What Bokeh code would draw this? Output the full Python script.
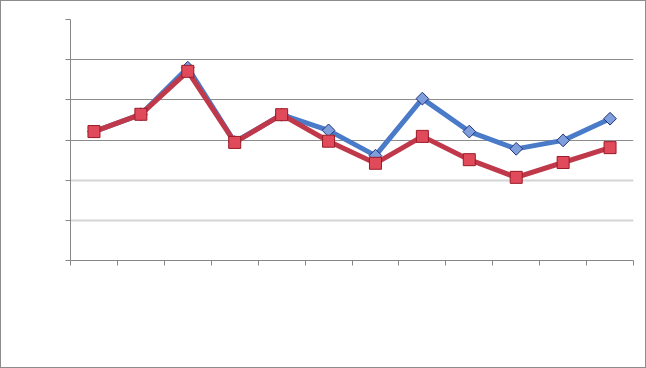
import math
from bokeh.plotting import figure
from bokeh.layouts import column
from bokeh.models import Range1d, FixedTicker, Grid, Legend, LegendItem
from bokeh.embed import file_html
from bokeh.resources import INLINE

# data
positions = list(range(1, 13))
series_a = [3.21, 3.64, 4.80, 2.95, 3.63, 3.24, 2.61, 4.03, 3.21, 2.78, 2.99, 3.53]
series_b = [3.21, 3.64, 4.71, 2.94, 3.63, 2.97, 2.42, 3.09, 2.51, 2.07, 2.44, 2.81]
y_ticks = [0, 1, 2, 3, 4, 5, 6]
x_bounds = [0.5 + i for i in range(13)]

BLUE_LINE, BLUE_FILL, BLUE_EDGE = "#4a7bc8", "#7f9fdc", "#23317a"
RED_LINE, RED_FILL, RED_EDGE = "#c0394a", "#e04a5a", "#9b1b27"

p = figure(width=644, height=329, output_backend="svg", toolbar_location=None,
           frame_width=563, frame_height=241,
           min_border_left=69, min_border_right=12, min_border_top=18, min_border_bottom=70,
           x_range=Range1d(0.5, 12.5), y_range=Range1d(0, 6))
p.outline_line_color = None
p.background_fill_color = "white"
p.border_fill_color = "white"

for ax in (p.xaxis[0], p.yaxis[0]):
    ax.major_label_text_font_size = "0pt"
    ax.major_label_text_color = None
    ax.axis_line_color = "#868686"
    ax.major_tick_line_color = "#868686"
    ax.major_tick_out = 5
    ax.major_tick_in = 0
    ax.minor_tick_line_color = None
p.xaxis[0].ticker = FixedTicker(ticks=x_bounds)
p.yaxis[0].ticker = FixedTicker(ticks=y_ticks)
p.xgrid.grid_line_color = None
p.ygrid.grid_line_color = None

g_dark = Grid(dimension=1, ticker=FixedTicker(ticks=[3, 4, 5]), grid_line_color="#8c8c8c", grid_line_width=1)
g_light = Grid(dimension=1, ticker=FixedTicker(ticks=[1, 2]), grid_line_color="#d4d4d4", grid_line_width=2)
g_top = Grid(dimension=1, ticker=FixedTicker(ticks=[6]), grid_line_color="#b4b4b4", grid_line_width=1)
p.add_layout(g_dark)
p.add_layout(g_light)
p.add_layout(g_top)

p.line(positions, series_a, line_color=BLUE_LINE, line_width=5, line_join="round")
p.scatter(positions, series_a, marker="square", angle=math.pi / 4, size=9,
          fill_color=BLUE_FILL, line_color=BLUE_EDGE, line_width=1)
p.line(positions, series_b, line_color=RED_LINE, line_width=5, line_join="round")
p.scatter(positions, series_b, marker="square", size=12, fill_color=RED_FILL,
          line_color=RED_EDGE, line_width=1)

# legend strip
q = figure(width=644, height=37, output_backend="svg", toolbar_location=None,
           min_border_left=0, min_border_right=0, min_border_top=0, min_border_bottom=0,
           x_axis_location=None, y_axis_location=None,
           x_range=Range1d(0, 1), y_range=Range1d(0, 1))
q.outline_line_color = None
q.background_fill_color = "white"
q.border_fill_color = "white"
q.xgrid.grid_line_color = None
q.ygrid.grid_line_color = None

ka = q.line([], [], line_color=BLUE_LINE, line_width=5, line_cap="round")
kma = q.scatter([], [], marker="diamond", fill_color=BLUE_FILL, line_color=BLUE_EDGE, line_width=1)
kb = q.line([], [], line_color=RED_LINE, line_width=5, line_cap="round")
kmb = q.scatter([], [], marker="square", fill_color=RED_FILL, line_color=RED_EDGE, line_width=1)

leg = Legend(items=[LegendItem(label=" ", renderers=[ka, kma]),
                    LegendItem(label=" ", renderers=[kb, kmb])],
             orientation="horizontal", location=(87, 5),
             glyph_width=28, glyph_height=28, label_text_font_size="1pt",
             label_standoff=0, label_width=230, spacing=11,
             border_line_color=None, background_fill_alpha=0, padding=0, margin=0)
q.add_layout(leg, "center")

layout = column(p, q, spacing=0)
layout.styles = {"border": "1px solid #8c8c8c"}

open("out.html", "w").write(file_html(layout, INLINE))
